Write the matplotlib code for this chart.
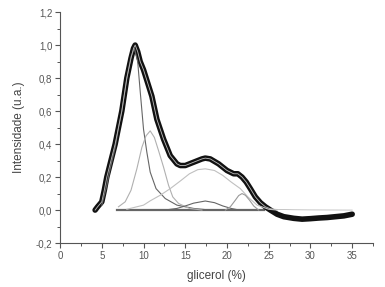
import matplotlib
matplotlib.use("Agg")
import matplotlib.pyplot as plt
from matplotlib.ticker import MultipleLocator, FuncFormatter

plt.rcParams['font.family'] = ['Liberation Sans', 'DejaVu Sans']

data_x = [4.2, 4.5, 5.0, 5.3, 5.6, 6.1, 6.6, 7.0, 7.4, 8.0, 8.5, 8.8, 9.0, 9.3, 9.6,
          10.0, 10.5, 11.0, 11.6, 12.4, 13.2, 14.0, 14.4, 15.0, 16.0, 17.0, 17.4,
          18.0, 19.0, 20.0, 20.8, 21.3, 21.8, 22.3, 22.8, 23.4, 24.0, 24.6, 25.2,
          26.0, 26.8, 28.0, 29.0, 30.0, 31.0, 32.0, 33.0, 34.0, 35.0]
data_y = [0.0, 0.02, 0.05, 0.12, 0.2, 0.3, 0.4, 0.5, 0.6, 0.8, 0.92, 0.98, 1.0, 0.96, 0.9,
          0.85, 0.77, 0.69, 0.55, 0.43, 0.33, 0.28, 0.27, 0.27, 0.29, 0.31, 0.315,
          0.31, 0.28, 0.24, 0.22, 0.22, 0.2, 0.17, 0.13, 0.08, 0.045, 0.02, 0.0,
          -0.025, -0.04, -0.05, -0.055, -0.052, -0.048, -0.045, -0.04, -0.035, -0.025]

# fit (sum of peaks)
fit_x = [4.2, 4.5, 5.0, 5.3, 5.6, 6.1, 6.6, 7.0, 7.4, 8.0, 8.5, 8.8, 9.0, 9.3, 9.6,
         10.0, 10.5, 11.0, 11.6, 12.4, 13.2, 14.0, 14.4, 15.0, 16.0, 17.0, 17.4,
         18.0, 19.0, 20.0, 20.8, 21.3, 21.8, 22.3, 22.8, 23.4, 24.0, 24.6, 25.2,
         26.0, 28.0, 30.0, 35.0]
fit_y = [0.0, 0.02, 0.05, 0.12, 0.2, 0.3, 0.4, 0.5, 0.6, 0.8, 0.92, 0.98, 1.0, 0.96, 0.9,
         0.85, 0.77, 0.69, 0.55, 0.43, 0.33, 0.28, 0.27, 0.27, 0.29, 0.31, 0.315,
         0.31, 0.28, 0.24, 0.22, 0.22, 0.2, 0.17, 0.13, 0.08, 0.045, 0.02, 0.008,
         0.004, 0.002, 0.001, 0.0]

# peak components
p1_x = [5.0, 5.6, 6.0, 6.6, 7.0, 7.4, 8.0, 8.5, 8.9, 9.3, 9.6, 10.0, 10.4, 10.8,
        11.5, 12.6, 14.0, 16.0, 18.0]
p1_y = [0.03, 0.15, 0.25, 0.38, 0.5, 0.6, 0.8, 0.93, 0.98, 0.9, 0.72, 0.49, 0.35, 0.23,
        0.13, 0.07, 0.03, 0.01, 0.0]

p2_x = [7.0, 7.8, 8.5, 9.2, 9.8, 10.3, 10.8, 11.3, 11.8, 12.4, 13.0, 13.5, 14.2, 15.5, 17.0]
p2_y = [0.02, 0.05, 0.12, 0.25, 0.38, 0.45, 0.48, 0.44, 0.36, 0.26, 0.15, 0.08, 0.04, 0.01, 0.0]

p3_x = [8.0, 10.0, 10.8, 12.0, 13.2, 14.5, 15.5, 16.5, 17.4, 18.5, 19.5, 20.5, 21.6,
        22.5, 23.6, 25.0, 26.0]
p3_y = [0.005, 0.03, 0.056, 0.09, 0.13, 0.18, 0.22, 0.245, 0.25, 0.24, 0.21, 0.17, 0.13,
        0.08, 0.03, 0.005, 0.0]

p4_x = [12.5, 14.0, 15.0, 16.0, 17.4, 18.5, 19.5, 20.5, 21.5]
p4_y = [0.0, 0.01, 0.025, 0.042, 0.055, 0.045, 0.025, 0.01, 0.0]

p5_x = [19.8, 20.4, 21.0, 21.4, 21.8, 22.2, 22.7, 23.2, 23.8]
p5_y = [0.0, 0.02, 0.06, 0.088, 0.1, 0.09, 0.06, 0.025, 0.0]

base_x = [6.8, 24.4]
base_y = [0.0, 0.0]

fig = plt.figure(figsize=(3.85, 2.87), dpi=100)
ax = fig.add_axes([0.156, 0.153, 0.813, 0.805])

ax.plot(base_x, base_y, color='#666666', lw=1.6, zorder=2)
ax.plot(data_x, data_y, color='#111111', lw=4.0, solid_joinstyle='round',
        solid_capstyle='round', zorder=3)
ax.plot(p1_x, p1_y, color='#666666', lw=0.8, zorder=4)
ax.plot(p2_x, p2_y, color='#b0b0b0', lw=0.8, zorder=4)
ax.plot(p3_x, p3_y, color='#c0c0c0', lw=0.8, zorder=4)
ax.plot(p4_x, p4_y, color='#666666', lw=0.8, zorder=4)
ax.plot(p5_x, p5_y, color='#999999', lw=0.8, zorder=4)
ax.plot(fit_x, fit_y, color='#bdbdbd', lw=0.6, zorder=5)

ax.set_xlim(0, 37.5)
ax.set_ylim(-0.2, 1.2)
ax.xaxis.set_major_locator(MultipleLocator(5))
ax.xaxis.set_minor_locator(MultipleLocator(2.5))
ax.yaxis.set_major_locator(MultipleLocator(0.2))
ax.yaxis.set_minor_locator(MultipleLocator(0.1))
ax.set_xticks([0, 5, 10, 15, 20, 25, 30, 35])
ax.yaxis.set_major_formatter(FuncFormatter(lambda v, p: ('%.1f' % v).replace('.', ',').replace('-0,0', '0,0')))

for s in ['top', 'right']:
    ax.spines[s].set_visible(False)
for s in ['left', 'bottom']:
    ax.spines[s].set_color('#555555')
    ax.spines[s].set_linewidth(0.8)
ax.tick_params(which='major', direction='out', length=3.5, width=0.8, color='#555555',
               labelsize=7, labelcolor='#555555', pad=2)
ax.tick_params(which='minor', direction='out', length=2, width=0.7, color='#555555')

ax.set_xlabel('glicerol (%)', fontsize=8.5, color='#444444', labelpad=7)
ax.set_ylabel('Intensidade (u.a.)', fontsize=8.5, color='#444444', labelpad=8)

fig.savefig('out.png', dpi=100)
